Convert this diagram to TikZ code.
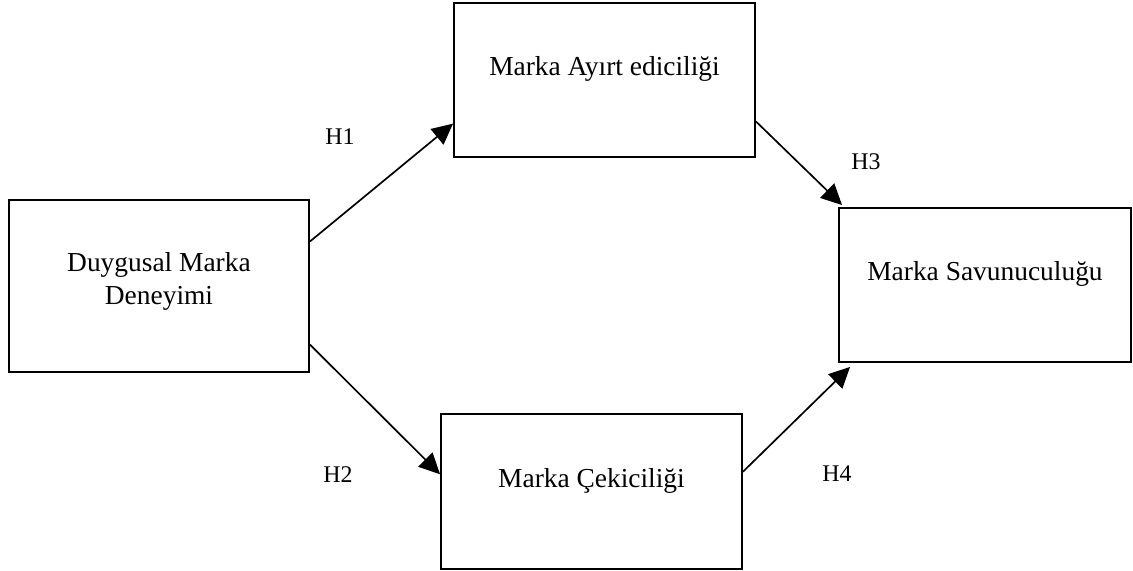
\documentclass[tikz,border=0pt]{standalone}
\usepackage{fontspec}
\setmainfont{Liberation Serif}
\usetikzlibrary{arrows.meta,calc}

\begin{document}
\begin{tikzpicture}[x=0.025cm, y=-0.025cm,
  box/.style={draw, line width=1.3pt, inner sep=0pt, align=center,
    font=\fontsize{19.5}{22.8}\selectfont, text height=0.45cm, text depth=0.65cm},
  hyp/.style={font=\fontsize{17}{20}\selectfont},
  arr/.style={-{Triangle[length=0.52cm, width=0.5cm]}, line width=1.2pt}]
  \useasboundingbox (0,0) rectangle (1133,571);
  \node[box, minimum width=7.5cm, minimum height=4.3cm, text height=1.35cm, text depth=0.45cm] (dme) at (159,286) {Duygusal Marka\\Deneyimi};
  \node[box, minimum width=7.525cm, minimum height=3.85cm] (mae) at (604.5,80) {Marka Ayırt ediciliği};
  \node[box, minimum width=7.525cm, minimum height=3.875cm] (mc) at (591.5,491.5) {Marka Çekiciliği};
  \node[box, minimum width=7.3cm, minimum height=3.85cm] (ms) at (985,285) {Marka Savunuculuğu};
  \draw[arr] ($(dme.north east)!0.244!(dme.south east)$) -- ($(mae.north west)!0.78!(mae.south west)$);
  \draw[arr] ($(dme.north east)!0.837!(dme.south east)$) -- ($(mc.north west)!0.39!(mc.south west)$);
  \draw[arr] ($(mae.north east)!0.766!(mae.south east)$) -- ($(ms.north west)+(4,-2)$);
  \draw[arr] ($(mc.north east)!0.374!(mc.south east)$) -- ($(ms.south west)+(12,4)$);
  \node[hyp] (h1) at (340,137) {H1};
  \node[hyp] (h2) at (338,475) {H2};
  \node[hyp] (h3) at (866,162) {H3};
  \node[hyp] (h4) at (837,474) {H4};
\end{tikzpicture}
\end{document}
